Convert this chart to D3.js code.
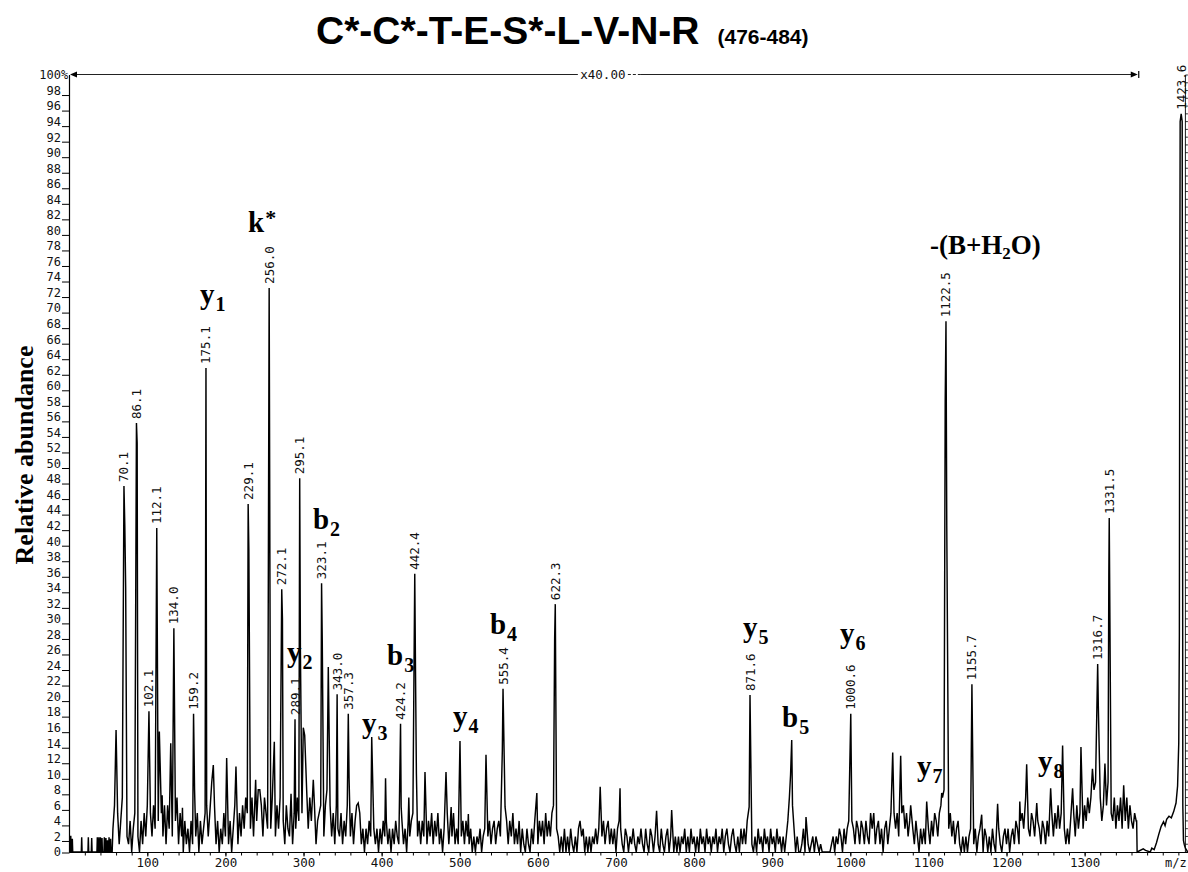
<!DOCTYPE html>
<html>
<head>
<meta charset="utf-8">
<script src="https://cdn.jsdelivr.net/npm/d3@7"></script>
<style>
  body { margin: 0; background: #fff; }
  svg { display: block; background: #fff; }
</style>
</head>
<body>
<svg id="chart" width="1188" height="872"></svg>
<script>
// ---- Spectrum data: m/z and relative abundance (%) ----

// Peaks carrying an m/z label
const labeledPeaks = [
  [70.1, 47.1], [86.1, 55.2], [102.1, 18.1], [112.1, 41.7], [134.0, 28.8],
  [159.2, 17.8], [175.1, 62.3], [229.1, 44.8], [256.0, 72.6], [272.1, 33.8],
  [289.1, 17.1], [295.1, 48.1], [323.1, 34.6], [343.0, 20.3], [357.3, 17.8],
  [424.2, 16.5], [442.4, 35.8], [555.4, 21.0], [622.3, 31.9], [871.6, 20.2],
  [1000.6, 17.8], [1122.5, 68.3], [1155.7, 21.6], [1316.7, 24.2], [1331.5, 43.0],
  [1423.6, 95.0]
];

// Unlabelled fragment peaks and shoulders
const minorPeaks = [
  [60, 15.7], [71.2, 42], [72.3, 34], [87, 52.6], [115.4, 15.5], [119, 7.3],
  [130, 14], [145, 5.7], [160.5, 8], [182.5, 9], [184.5, 11.2], [201.6, 12.1],
  [213.5, 11], [230, 39], [238.7, 9.3], [244, 8], [257, 35], [262.6, 14.2],
  [273, 30], [284, 7.5], [296, 26], [299.7, 16], [301.5, 15], [312.5, 9.3],
  [324, 27], [331.7, 23.8], [358.3, 9.5], [370, 6.3], [387.3, 14.8], [388.3, 10.3],
  [405, 9.5], [425, 5.8], [434.8, 7], [443.3, 24], [444.5, 10.1], [455.5, 10.3],
  [482.4, 10.3], [489, 5.8], [500.3, 14.3], [511, 4.9], [533.6, 12.5], [554.5, 13],
  [558, 5.8], [598.7, 7.6], [621.5, 27.5], [679.8, 8.4], [705.2, 8.2], [752, 5.3],
  [771.3, 5.4], [870.5, 5.8], [923.5, 9.9], [925, 14.4], [943.3, 4.5], [1054.3, 12.8],
  [1064.5, 12.4], [1077.3, 6], [1097.8, 6.5], [1117, 7.6], [1121.5, 58], [1123.5, 42],
  [1168.2, 4.8], [1188.6, 6.2], [1217, 6.5], [1224.5, 7], [1225.8, 11.3], [1238.7, 6.3],
  [1256.5, 8.2], [1271.8, 13.7], [1284.6, 8.2], [1295.3, 13.5], [1310, 10.7],
  [1317.5, 18.9], [1326, 11.4], [1331, 36], [1350, 8.6]
];

// Isolated baseline spikes below m/z 55
const lowMassSticks = [
  [2, 2.1], [4, 1.7], [16, 1.9], [24.5, 1.9], [28.8, 1.8], [36, 1.9], [38, 1.9],
  [40, 1.9], [42, 1.8], [45, 1.9], [47, 1.8], [49, 1.5], [51, 1.9], [53, 1.7]
];

// Chemical noise floor, sampled every 2 m/z from m/z 56 to 1366
const noiseStart = 56;
const noiseStep = 2;
const noiseTrace = [
  3,6,2,5,1,4,7,5,8,2,1,4,0,3,5,6,2,0,4,1,5,2,6,3,5,
  2,6,3,7,4,9,5,2,6,1,6,3,7,2,6,4,7,1,5,2,0,4,1,3,0,
  4,1,7,2,5,0,4,1,3,5,6,2,5,7,3,6,1,4,0,3,1,5,2,6,1,
  4,0,3,6,4,1,5,2,6,3,7,5,8,3,7,2,6,4,8,3,6,2,7,5,3,
  6,3,7,4,2,6,3,7,6,4,1,6,3,2,7,1,5,3,7,4,8,5,7,4,8,
  3,7,4,2,6,1,4,5,6,7,2,6,8,4,6,2,5,1,6,3,2,5,1,4,2,
  6,3,2,5,1,4,6,3,5,1,3,0,3,1,4,2,5,3,1,3,0,3,1,4,2,
  4,1,3,0,3,1,4,2,1,3,4,1,3,0,4,2,4,5,3,5,2,4,1,4,2,
  4,1,4,2,5,1,4,2,5,1,3,0,3,4,5,1,4,2,5,1,3,1,4,2,4,
  1,4,2,1,3,0,2,0,2,1,3,0,2,3,4,2,4,1,3,4,1,3,4,2,5,
  4,2,4,1,4,2,5,1,3,1,4,0,3,1,0,3,1,0,3,1,4,2,1,4,2,
  4,1,5,2,4,2,5,6,5,3,2,0,2,0,3,0,2,0,3,1,0,2,0,3,4,
  2,3,0,2,0,2,0,2,1,3,1,3,4,2,4,1,3,4,1,3,1,3,0,3,4,
  3,1,0,3,2,0,2,1,3,1,0,2,1,3,1,0,3,1,0,3,2,0,2,3,1,
  0,3,1,0,2,3,0,2,3,0,2,0,2,0,2,1,3,0,2,0,3,1,2,0,2,
  0,3,1,2,0,3,1,2,0,2,1,3,0,2,1,3,0,2,3,1,0,2,3,1,0,
  2,0,3,1,3,1,4,5,4,1,0,2,0,3,1,2,0,3,1,2,0,3,1,2,0,
  3,1,2,0,2,0,2,4,7,9,6,3,0,2,0,0,1,3,0,2,1,0,1,2,0,
  2,1,0,1,0,0,0,0,0,0,1,2,0,2,1,3,2,0,3,1,3,4,5,4,3,
  1,4,3,1,4,3,1,4,2,1,5,3,5,1,3,4,1,3,0,3,4,1,3,5,3,
  5,3,5,2,4,5,6,3,5,2,4,1,3,1,4,2,0,3,1,3,1,4,3,1,4,
  2,5,4,2,5,6,7,8,9,6,3,5,2,4,1,3,4,1,0,2,0,2,0,2,3,
  4,1,3,0,2,3,1,0,3,2,0,2,0,3,1,0,2,3,1,0,2,3,1,3,0,
  2,3,1,4,3,1,4,5,3,6,5,3,2,5,4,2,1,4,3,1,4,3,1,4,2,
  4,5,2,5,3,6,3,5,6,3,1,3,1,4,2,5,2,6,3,5,6,3,6,4,7,
  5,7,5,8,9,10,12,7,4,6,8,6,9,8,5,4,7,3,6,4,7,3,6,4,7,
  3,6,4,3,5,4
];

// Low-level trace leading up to the precursor ion
const precursorRegion = [
  [1366.6, 4], [1367.2, 0], [1375, 0.4], [1378, 0.2], [1384, 0], [1386, 0.5],
  [1389, 0.3], [1392, 1.2], [1395, 2.3], [1398, 3.3], [1401, 3.9], [1403, 3.4],
  [1405, 4.2], [1408, 4.6], [1411, 4.4], [1414, 5.2], [1417, 6.3], [1419, 8.5],
  [1420.5, 14], [1421.3, 28], [1421.8, 70], [1422.3, 94], [1424.9, 94],
  [1425.3, 60], [1425.7, 6], [1426.5, 1.5], [1427.5, 1], [1429, 0.5], [1432, 0]
];

// Fragment ion assignments: [letter, subscript, superscript, m/z, abundance]
const ionLabels = [
  ["y", "1", "", 167.5, 70.5],
  ["k", "", "*", 228.9, 79.8],
  ["b", "2", "", 312.1, 41.6],
  ["y", "2", "", 278.8, 24.5],
  ["b", "3", "", 406.9, 24.1],
  ["y", "3", "", 374.9, 15.3],
  ["y", "4", "", 491.4, 16.2],
  ["b", "4", "", 538.7, 28.1],
  ["y", "5", "", 862.6, 27.7],
  ["b", "5", "", 912.6, 16.1],
  ["y", "6", "", 986.8, 26.9],
  ["y", "7", "", 1085.4, 9.8],
  ["y", "8", "", 1240.3, 10.4]
];
const neutralLoss = { mz: 1102, rel: 77.0 };

const xTickLabels = [100, 200, 300, 400, 500, 600, 700, 800, 900, 1000, 1100, 1200, 1300];
const yTickLabels = [0,2,4,6,8,10,12,14,16,18,20,22,24,26,28,30,32,34,36,38,40,42,44,46,48,
  50,52,54,56,58,60,62,64,66,68,70,72,74,76,78,80,82,84,86,88,90,92,94,96,98,100];
const magnifiedRange = [1, 1368];
const magnification = "x40.00";

// ---- Layout ----
const svg = d3.select("#chart");
const W = 1188, H = 872;
const x = d3.scaleLinear().domain([0, 1400]).range([69.2, 69.2 + 1400 * 0.7811]);
const y = d3.scaleLinear().domain([0, 100]).range([852, 75]);
const mono = "'DejaVu Sans Mono', 'Liberation Mono', monospace";
const serif = "'Liberation Serif', 'Times New Roman', serif";
const sans = "'Liberation Sans', Arial, Helvetica, sans-serif";

// ---- Title ----
const title = svg.append("text")
  .attr("x", 316).attr("y", 44)
  .attr("font-family", sans).attr("font-weight", "bold")
  .attr("font-size", 39).attr("fill", "#000");
title.append("tspan").text("C*-C*-T-E-S*-L-V-N-R");
title.append("tspan").attr("dx", 18).attr("font-size", 21).text("(476-484)");

// ---- Y axis title ----
svg.append("text")
  .attr("transform", "translate(33,455) rotate(-90)")
  .attr("text-anchor", "middle")
  .attr("font-family", serif).attr("font-weight", "bold")
  .attr("font-size", 26).attr("fill", "#000")
  .text("Relative abundance");

// ---- Axes ----
const axisLeft = x(0) + 0.3;
svg.append("line")
  .attr("x1", axisLeft).attr("x2", axisLeft)
  .attr("y1", y(100)).attr("y2", y(0) + 0.5)
  .attr("stroke", "#000").attr("stroke-width", 1.2);

const yAxis = svg.append("g")
  .attr("transform", `translate(${axisLeft},0)`)
  .call(d3.axisLeft(y).tickValues(yTickLabels).tickSize(0).tickPadding(8.5)
    .tickFormat(d => d));
yAxis.select(".domain").remove();
yAxis.selectAll("text")
  .attr("font-family", mono).attr("font-size", 12).attr("fill", "#111");
yAxis.selectAll(".tick").filter(d => d === 100).append("text")
  .attr("x", -8.5).attr("dy", "0.32em")
  .attr("text-anchor", "start")
  .attr("font-family", mono).attr("font-size", 12).attr("fill", "#111")
  .text("%");
yAxis.selectAll(".tick").filter(d => d < 100).append("line")
  .attr("x1", -7.5).attr("x2", 0)
  .attr("y1", d => Math.min(4.5, y(0) + 0.5 - y(d)))
  .attr("y2", d => Math.min(4.5, y(0) + 0.5 - y(d)))
  .attr("stroke", "#000").attr("stroke-width", 1);

// bottom axis
svg.append("line")
  .attr("x1", axisLeft).attr("x2", W)
  .attr("y1", y(0) + 0.5).attr("y2", y(0) + 0.5)
  .attr("stroke", "#000").attr("stroke-width", 1.2);

const minorX = d3.range(20, 1421, 20);
const xMinor = svg.append("g")
  .attr("transform", `translate(0,${y(0) + 0.5})`)
  .call(d3.axisBottom(x).tickValues(minorX).tickSize(3).tickFormat(""));
xMinor.select(".domain").remove();
xMinor.selectAll("line").attr("stroke", "#000");

const xAxis = svg.append("g")
  .attr("transform", `translate(0,${y(0) + 0.5})`)
  .call(d3.axisBottom(x).tickValues(xTickLabels).tickSize(4).tickPadding(2)
    .tickFormat(d3.format("d")));
xAxis.select(".domain").remove();
xAxis.selectAll("line").attr("stroke", "#000");
xAxis.selectAll("text")
  .attr("font-family", mono).attr("font-size", 12.5).attr("fill", "#111");

svg.append("text")
  .attr("x", 1165).attr("y", 867)
  .attr("font-family", mono).attr("font-size", 12).attr("fill", "#111")
  .text("m/z");

// right frame with fine ticks
const rightX = x(1429);
svg.append("line")
  .attr("x1", rightX).attr("x2", rightX)
  .attr("y1", y(100)).attr("y2", y(0))
  .attr("stroke", "#000").attr("stroke-width", 0.9);
svg.append("g").selectAll("line")
  .data(d3.range(0, 101, 1))
  .join("line")
  .attr("x1", rightX).attr("x2", rightX + 2.5)
  .attr("y1", d => y(d)).attr("y2", d => y(d))
  .attr("stroke", "#000").attr("stroke-width", 0.8);

// ---- Magnification bracket ----
const magY = y(100) - 0.5;
const mx0 = x(magnifiedRange[0]), mx1 = x(magnifiedRange[1]);
const magLabelX = (mx0 + mx1) / 2 - 1;
const bracket = svg.append("g").attr("stroke", "#222").attr("stroke-width", 1);
bracket.append("line").attr("x1", mx0 + 6).attr("x2", magLabelX - 25)
  .attr("y1", magY).attr("y2", magY);
bracket.append("line").attr("x1", magLabelX + 25).attr("x2", magLabelX + 38)
  .attr("y1", magY).attr("y2", magY).attr("stroke-dasharray", "3,2");
bracket.append("line").attr("x1", magLabelX + 38).attr("x2", mx1 - 6)
  .attr("y1", magY).attr("y2", magY);
svg.append("path")
  .attr("d", `M${mx0},${magY} L${mx0 + 7},${magY - 3} L${mx0 + 7},${magY + 3} Z`)
  .attr("fill", "#000");
svg.append("path")
  .attr("d", `M${mx1},${magY} L${mx1 - 7},${magY - 3} L${mx1 - 7},${magY + 3} Z`)
  .attr("fill", "#000");
svg.append("line")
  .attr("x1", mx1 + 1).attr("x2", mx1 + 1).attr("y1", magY - 3.5).attr("y2", magY + 3.5)
  .attr("stroke", "#000").attr("stroke-width", 1.2);
svg.append("text")
  .attr("x", magLabelX).attr("y", magY).attr("dy", "0.35em")
  .attr("text-anchor", "middle")
  .attr("font-family", mono).attr("font-size", 12.5).attr("fill", "#111")
  .text(magnification);

// ---- Spectrum trace ----
const peakVertices = labeledPeaks.concat(minorPeaks);
const vertices = [[0, 0]];
lowMassSticks.forEach(([m, h]) => {
  vertices.push([m - 0.5, 0], [m, h], [m + 0.5, 0]);
});
vertices.push([noiseStart - 1, 0]);
noiseTrace.forEach((v, i) => {
  const m = noiseStart + i * noiseStep;
  const nearPeak = peakVertices.some(p => Math.abs(p[0] - m) < 0.75);
  if (!nearPeak) vertices.push([m, v]);
});
peakVertices.forEach(p => vertices.push(p));
precursorRegion.forEach(p => vertices.push(p));
vertices.sort((a, b) => a[0] - b[0]);

const line = d3.line().x(d => x(d[0])).y(d => y(d[1]));
svg.append("path")
  .datum(vertices)
  .attr("d", line)
  .attr("fill", "none")
  .attr("stroke", "#000")
  .attr("stroke-width", 1.45)
  .attr("stroke-linejoin", "miter");

// ---- Peak m/z labels ----
svg.append("g").selectAll("text")
  .data(labeledPeaks)
  .join("text")
  .attr("transform", d => `translate(${x(d[0])},${y(d[1]) - 4}) rotate(-90)`)
  .attr("dy", "0.36em")
  .attr("font-family", mono).attr("font-size", 12.5).attr("fill", "#111")
  .text(d => d[0].toFixed(1));

// ---- Ion assignments ----
const ionG = svg.append("g")
  .attr("font-family", serif).attr("font-weight", "bold").attr("fill", "#000");
ionLabels.forEach(([letter, sub, sup, m, r]) => {
  const t = ionG.append("text").attr("x", x(m)).attr("y", y(r)).attr("font-size", 29);
  t.append("tspan").text(letter);
  if (sub) t.append("tspan").attr("font-size", 20).attr("dy", 7).attr("dx", 1).text(sub);
  if (sup) t.append("tspan").attr("font-size", 22).attr("dy", -7).attr("dx", 1).text(sup);
});
const nl = ionG.append("text").attr("x", x(neutralLoss.mz)).attr("y", y(neutralLoss.rel))
  .attr("font-size", 27);
nl.append("tspan").text("-(B+H");
nl.append("tspan").attr("font-size", 17).attr("dy", 5).text("2");
nl.append("tspan").attr("dy", -5).text("O)");
</script>
</body>
</html>
